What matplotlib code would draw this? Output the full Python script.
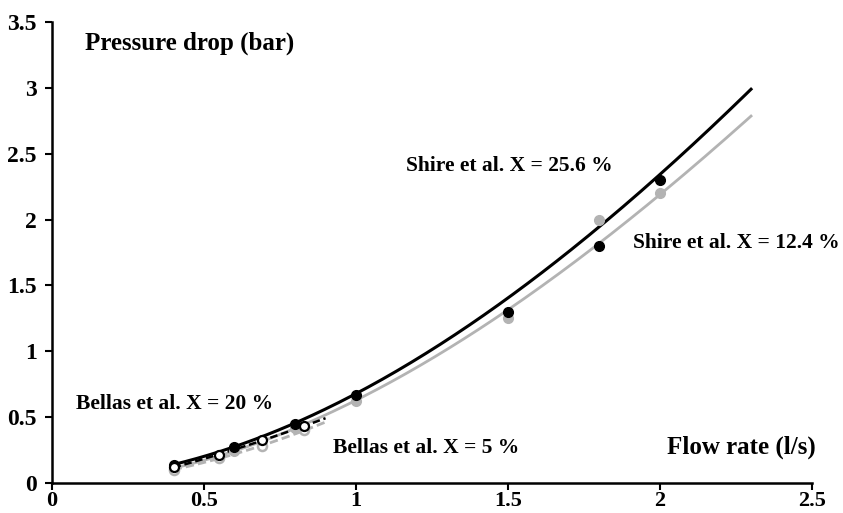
import numpy as np
import matplotlib.pyplot as plt

# Shire et al. measurements (flow rate l/s, pressure drop bar)
shire_x = [0.4, 0.6, 0.8, 1.0, 1.5, 1.8, 2.0]
shire_256 = [0.14, 0.27, 0.45, 0.67, 1.30, 1.80, 2.30]
shire_124 = [0.11, 0.24, 0.42, 0.62, 1.25, 2.00, 2.20]

# trendlines of the Shire data
shire_fit_x = [0.4, 1.0, 1.5, 1.8, 2.0, 2.3]
shire_fit_256 = [0.14, 0.68, 1.40, 1.95, 2.34, 2.99]
shire_fit_124 = [0.11, 0.64, 1.29, 1.83, 2.20, 2.78]

# Bellas et al. measurements
bellas_x = [0.40, 0.55, 0.69, 0.83]
bellas_20 = [0.12, 0.21, 0.33, 0.43]
bellas_5 = [0.10, 0.19, 0.28, 0.40]

xticks = [0, 0.5, 1, 1.5, 2, 2.5]
yticks = [0, 0.5, 1, 1.5, 2, 2.5, 3, 3.5]
xticklabels = ["0", "0.5", "1", "1.5", "2", "2.5"]
yticklabels = ["0", "0.5", "1", "1.5", "2", "2.5", "3", "3.5"]

GRAY = "#b3b3b3"
plt.rcParams["font.family"] = "Liberation Serif"
plt.rcParams["font.weight"] = "bold"


def trend(x, y, x0, x1, deg=2):
    # smooth trendline through the given values
    c = np.polyfit(x, y, deg)
    xs = np.linspace(x0, x1, 200)
    return xs, np.polyval(c, xs)


fig = plt.figure(figsize=(8.43, 5.13), dpi=100)
ax = fig.add_axes([0.0617, 0.0585, 0.9013, 0.8985])

# Shire trendlines and points
xs, ys = trend(shire_fit_x, shire_fit_124, 0.4, 2.3, 3)
ax.plot(xs, ys, color=GRAY, lw=2)
xs, ys = trend(shire_fit_x, shire_fit_256, 0.4, 2.3, 3)
ax.plot(xs, ys, color="black", lw=2.2)
ax.plot(shire_x, shire_124, "o", color=GRAY, ms=7, zorder=3)
ax.plot(shire_x, shire_256, "o", color="black", ms=7, zorder=4)

# Bellas trendlines and points
xs, ys = trend(bellas_x, bellas_5, 0.4, 0.9)
ax.plot(xs, ys, color=GRAY, lw=2, ls=(0, (3, 1.5)))
xs, ys = trend(bellas_x, bellas_20, 0.4, 0.9)
ax.plot(xs, ys, color="black", lw=1.8, ls=(0, (3, 1.5)))
ax.plot(bellas_x, bellas_5, "o", mfc="white", mec=GRAY, mew=1.8, ms=6.5, zorder=3)
ax.plot(bellas_x, bellas_20, "o", mfc="white", mec="black", mew=1.6, ms=6.5, zorder=4)

ax.set_xlim(0, 2.5)
ax.set_ylim(0, 3.5)
ax.set_xticks(xticks)
ax.set_xticklabels(xticklabels)
ax.set_yticks(yticks)
ax.set_yticklabels(yticklabels)
ax.tick_params(labelsize=17, width=1.5, length=5, direction="out")
ax.tick_params(axis="y", pad=6)
ax.tick_params(axis="x", labelsize=16, pad=1)
for s in ["top", "right"]:
    ax.spines[s].set_visible(False)
for s in ["left", "bottom"]:
    ax.spines[s].set_linewidth(1.8)

ax.text(0.109, 3.34, "Pressure drop (bar)", fontsize=18, va="center", ha="left")
ax.text(2.023, 0.273, "Flow rate (l/s)", fontsize=18, va="center", ha="left")
ax.text(1.164, 2.41, "Shire et al. X = 25.6 %", fontsize=15.5, va="center", ha="left")
ax.text(1.911, 1.82, "Shire et al. X = 12.4 %", fontsize=15.5, va="center", ha="left")
ax.text(0.079, 0.60, "Bellas et al. X = 20 %", fontsize=15.5, va="center", ha="left")
ax.text(0.924, 0.266, "Bellas et al. X = 5 %", fontsize=15.5, va="center", ha="left")

fig.savefig("out.png", dpi=100)
